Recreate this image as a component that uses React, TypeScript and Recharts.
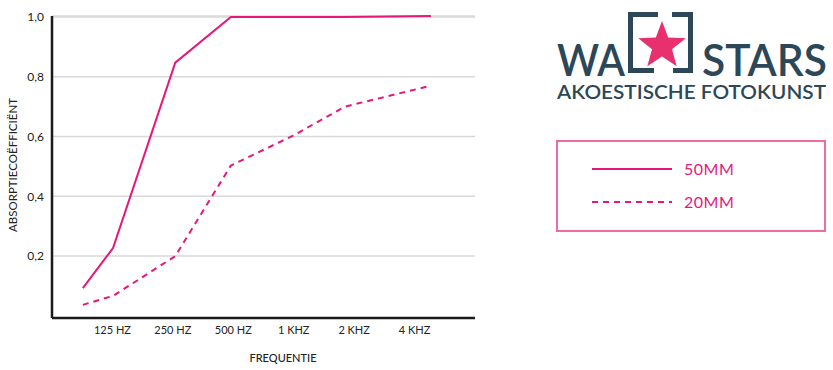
import React from 'react';
import { LineChart, Line, XAxis, YAxis, CartesianGrid, Legend } from 'recharts';

// frequency band labels, placed on a numeric axis at 1..6
const bandLabels = ['125 HZ', '250 HZ', '500 HZ', '1 KHZ', '2 KHZ', '4 KHZ'];
const bandTicks = [1, 2, 3, 4, 5, 6];
const yTicks = [0.2, 0.4, 0.6, 0.8, 1.0];

const xPos = [0.51, 1.01, 2.04, 2.96, 3.99, 4.85, 6.27];
const mm50 = [0.093, 0.227, 0.847, 1.0, 1.0, 1.0, 1.003];
const mm20 = [0.037, 0.067, 0.2, 0.503, 0.603, 0.7, 0.77];

const PINK = '#e5177b';
const NAVY = '#2c4858';
const FONT = 'Lato, "DejaVu Sans", sans-serif';

const series = [
  { key: 'mm50', name: '50MM', dash: undefined as string | undefined },
  { key: 'mm20', name: '20MM', dash: '6 5' },
];

const data = xPos.map((x, i) => ({ x, mm50: mm50[i], mm20: mm20[i] }));

function LegendBox() {
  return (
    <svg width={270} height={92}>
      <rect x={1} y={1} width={268} height={90} fill="#fff" stroke="#f06aa3" strokeWidth={2} />
      {series.map((s, i) => (
        <g key={s.key}>
          <line x1={36} x2={116} y1={29 + i * 33} y2={29 + i * 33} stroke={PINK} strokeWidth={2} strokeDasharray={s.dash} />
          <text x={128} y={35 + i * 33} fill={PINK} fontSize={16} fontFamily={FONT} letterSpacing={0.5}>
            {s.name}
          </text>
        </g>
      ))}
    </svg>
  );
}

function Star({ cx, cy, r }: { cx: number; cy: number; r: number }) {
  const pts: string[] = [];
  for (let i = 0; i < 10; i++) {
    const rad = i % 2 === 0 ? r : r * 0.42;
    const a = -Math.PI / 2 + (i * Math.PI) / 5;
    pts.push(`${cx + rad * Math.cos(a)},${cy + rad * Math.sin(a)}`);
  }
  return <polygon points={pts.join(' ')} fill="#e8306f" />;
}

function Logo() {
  return (
    <svg width={833} height={110} style={{ position: 'absolute', left: 0, top: 0 }}>
      {/* frame corners */}
      <g fill={NAVY}>
        <rect x={628} y={12} width={30} height={5} />
        <rect x={672} y={12} width={21} height={5} />
        <rect x={628} y={68} width={26} height={5} />
        <rect x={673} y={68} width={20} height={5} />
        <rect x={628} y={12} width={5} height={61} />
        <rect x={688} y={12} width={5} height={61} />
      </g>
      <Star cx={662} cy={46} r={25} />
      <text fill={NAVY} fontFamily={FONT} fontWeight={600}>
        <tspan x={557} y={76} fontSize={44} textLength={68} lengthAdjust="spacingAndGlyphs">
          WA
        </tspan>
        <tspan x={702} y={76} fontSize={44} textLength={125} lengthAdjust="spacingAndGlyphs">
          STARS
        </tspan>
        <tspan x={557} y={99} fontSize={20} textLength={269} lengthAdjust="spacingAndGlyphs">
          AKOESTISCHE FOTOKUNST
        </tspan>
      </text>
    </svg>
  );
}

export default function App() {
  return (
    <div style={{ position: 'absolute', left: 0, top: 0, width: 833, height: 370, background: '#fff' }}>
      <LineChart width={833} height={370} data={data} margin={{ top: 16, right: 358, left: 0, bottom: 22 }}>
        <CartesianGrid vertical={false} stroke="#d8d8d8" strokeWidth={1.5} />
        <XAxis
          dataKey="x"
          type="number"
          domain={[0, 7]}
          ticks={bandTicks}
          tickFormatter={(v: number) => bandLabels[v - 1]}
          tickLine={false}
          axisLine={{ stroke: '#1a1a1a', strokeWidth: 2.5 }}
          tick={{ fill: '#222', fontSize: 11, fontFamily: FONT }}
          height={30}
          label={({ viewBox }: any) => (
            <text x={283} y={viewBox.y + 44} textAnchor="middle" fill="#222" fontSize={11} fontFamily={FONT} fontWeight={500}>
              FREQUENTIE
            </text>
          )}
        />
        <YAxis
          type="number"
          domain={[-0.007, 1]}
          ticks={yTicks}
          tickFormatter={(v: number) => v.toFixed(1).replace('.', ',')}
          tickLine={false}
          axisLine={{ stroke: '#1a1a1a', strokeWidth: 2.5 }}
          tick={{ fill: '#222', fontSize: 12, fontFamily: FONT }}
          width={52}
          label={() => (
            <text x={17} y={165} transform="rotate(-90 17 165)" textAnchor="middle" fill="#222" fontSize={11.5} fontFamily={FONT}>
              ABSORPTIECOËFFICIËNT
            </text>
          )}
        />
        {series.map((s) => (
          <Line
            key={s.key}
            dataKey={s.key}
            name={s.name}
            stroke={PINK}
            strokeWidth={2}
            strokeDasharray={s.dash}
            dot={false}
            activeDot={false}
            type="linear"
            isAnimationActive={false}
          />
        ))}
        <Legend
          layout="horizontal"
          verticalAlign="middle"
          align="center"
          content={() => <LegendBox />}
          wrapperStyle={{ left: 556, top: 140, width: 270, height: 92 }}
        />
      </LineChart>
      <Logo />
    </div>
  );
}
